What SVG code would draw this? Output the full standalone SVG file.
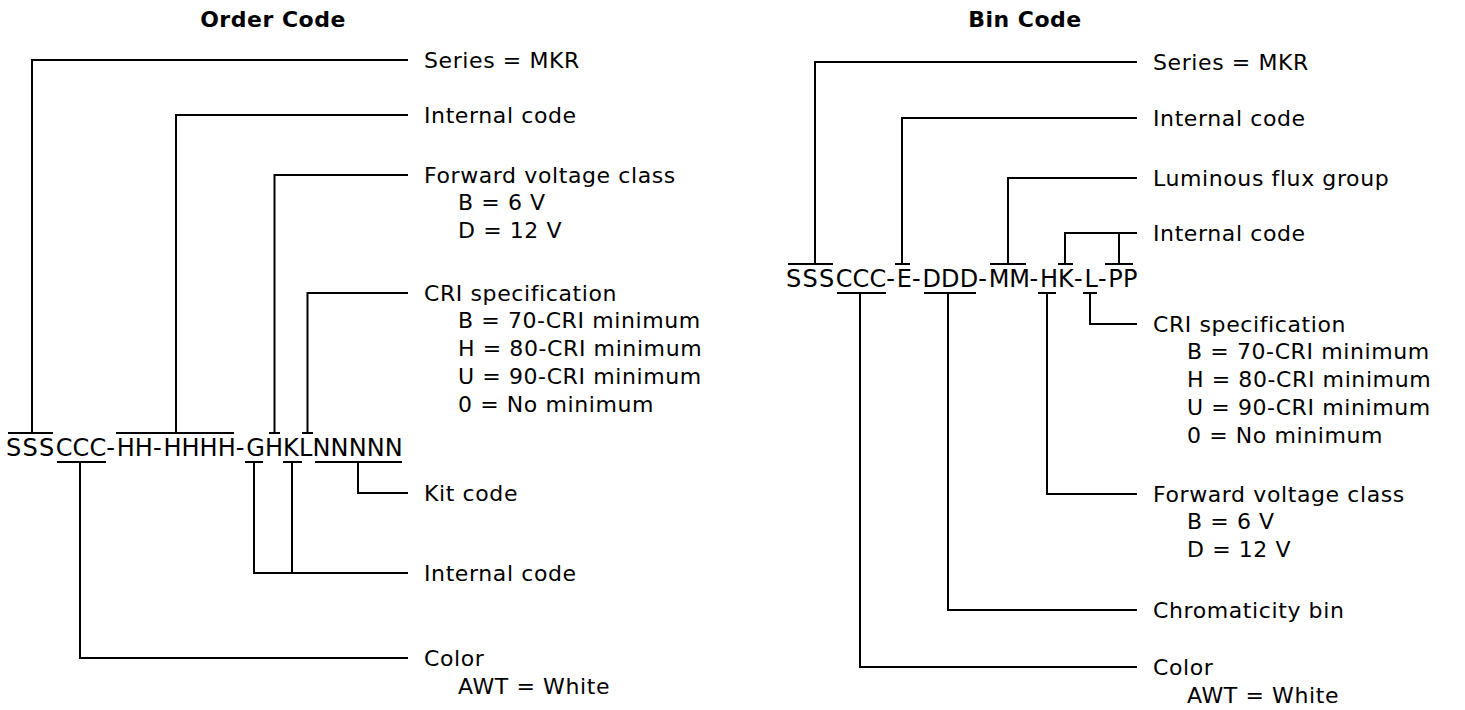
<svg xmlns="http://www.w3.org/2000/svg" width="1465" height="710" viewBox="0 0 1465 710">
<style>
.t{font-family:"DejaVu Sans","Verdana",sans-serif;font-size:22px;letter-spacing:0.6px;fill:#000}
.h{font-family:"DejaVu Sans","Verdana",sans-serif;font-size:22px;letter-spacing:0.5px;font-weight:bold;fill:#000;text-anchor:middle}
.c{font-family:"DejaVu Sans","Verdana",sans-serif;font-size:24px;fill:#000}
.l{fill:none;stroke:#000;stroke-width:2;stroke-linejoin:miter;stroke-linecap:butt}
</style>
<rect width="1465" height="710" fill="#fff"/>
<g id="order-code">
<text class="h" x="273" y="27">Order Code</text>
<text id="order-string" class="c" y="456" x="6 22.55 39.1 55.65 72.54 89.43 106.32 116.75 134.85 152.95 163.38 181.48 199.58 217.68 235.78 246.21 264.99 283.09 298.96 312.44 330.54 348.64 366.74 384.84">SSSCCC-HH-HHHH-GHKLNNNNN</text>
<g id="o-series"><text class="t" x="424" y="68">Series = MKR</text></g>
<g id="o-internal1"><text class="t" x="424" y="123">Internal code</text></g>
<g id="o-fv"><text class="t" x="424" y="183">Forward voltage class</text><text class="t" x="458" y="210">B = 6 V</text><text class="t" x="458" y="238">D = 12 V</text></g>
<g id="o-cri"><text class="t" x="424" y="301">CRI specification</text><text class="t" x="458" y="328">B = 70-CRI minimum</text><text class="t" x="458" y="356">H = 80-CRI minimum</text><text class="t" x="458" y="384">U = 90-CRI minimum</text><text class="t" x="458" y="412">0 = No minimum</text></g>
<g id="o-kit"><text class="t" x="424" y="501">Kit code</text></g>
<g id="o-internal2"><text class="t" x="424" y="581">Internal code</text></g>
<g id="o-color"><text class="t" x="424" y="666">Color</text><text class="t" x="458" y="694">AWT = White</text></g>
</g>
<g id="bin-code">
<text class="h" x="1025" y="27">Bin Code</text>
<text id="bin-string" class="c" y="287" x="786 802.55 819.1 835.65 852.54 869.43 886.32 896.75 912.04 922.47 941.1 959.73 978.36 988.79 1009.19 1029.59 1040.02 1058.12 1073.99 1084.42 1097.9 1108.33 1122.92">SSSCCC-E-DDD-MM-HK-L-PP</text>
<g id="b-series"><text class="t" x="1153" y="70">Series = MKR</text></g>
<g id="b-internal1"><text class="t" x="1153" y="126">Internal code</text></g>
<g id="b-flux"><text class="t" x="1153" y="186">Luminous flux group</text></g>
<g id="b-internal2"><text class="t" x="1153" y="241">Internal code</text></g>
<g id="b-cri"><text class="t" x="1153" y="332">CRI specification</text><text class="t" x="1187" y="359">B = 70-CRI minimum</text><text class="t" x="1187" y="387">H = 80-CRI minimum</text><text class="t" x="1187" y="415">U = 90-CRI minimum</text><text class="t" x="1187" y="443">0 = No minimum</text></g>
<g id="b-fv"><text class="t" x="1153" y="502">Forward voltage class</text><text class="t" x="1187" y="529">B = 6 V</text><text class="t" x="1187" y="557">D = 12 V</text></g>
<g id="b-chroma"><text class="t" x="1153" y="618">Chromaticity bin</text></g>
<g id="b-color"><text class="t" x="1153" y="675">Color</text><text class="t" x="1187" y="703">AWT = White</text></g>
</g>
<g id="connectors">
<path class="l" d="M8 433H53M32 433V60H408"/>
<path class="l" d="M116 433H234M176 433V115H408"/>
<path class="l" d="M269 433H280M274.5 433V175H408"/>
<path class="l" d="M302 433H313M307.5 433V293H408"/>
<path class="l" d="M57 462H106M80 462V658H408"/>
<path class="l" d="M245 462H263M254 462V573H408M283 462H302M292 462V573"/>
<path class="l" d="M315 462H402M358 462V493H408"/>
<path class="l" d="M788 264H833M815 264V62H1137"/>
<path class="l" d="M895 264H910M902 264V118H1137"/>
<path class="l" d="M990 264H1026M1008 264V178H1137"/>
<path class="l" d="M1058 264H1073M1065 264V233H1137M1105 264H1133M1119 264V233"/>
<path class="l" d="M837 293H886M860 293V667H1137"/>
<path class="l" d="M924 293H976M948 293V610H1137"/>
<path class="l" d="M1038 293H1056M1047 293V494H1137"/>
<path class="l" d="M1083 293H1097M1090 293V324H1137"/>
</g>
</svg>
